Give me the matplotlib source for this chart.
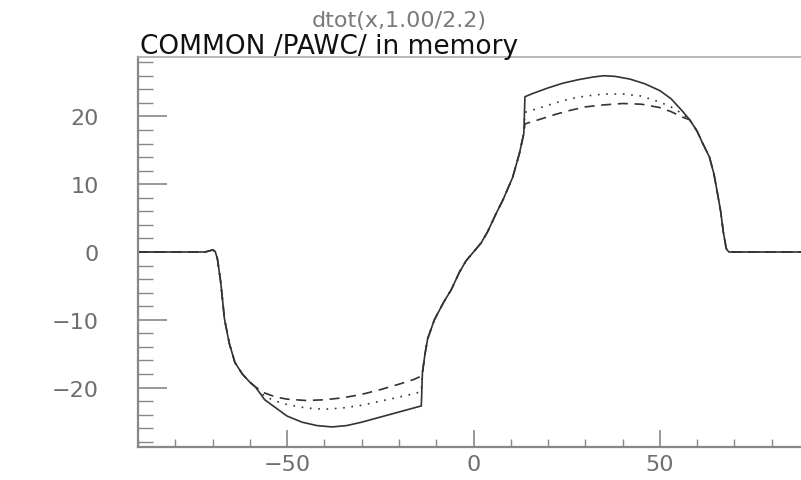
import numpy as np
import matplotlib
matplotlib.use("Agg")
import matplotlib.pyplot as plt
from matplotlib.ticker import MultipleLocator, FixedLocator

# shared parts of the three curves
left_x = [-90, -72, -71, -70, -69.3, -68.7, -67.8, -66.8, -65.5, -64, -62, -60, -58.5]
left_y = [0, 0, 0.15, 0.3, 0.1, -1.0, -4.5, -9.9, -13.5, -16.3, -18.0, -19.2, -19.9]
centre_x = [-13.7, -13, -12.3, -10.5, -8, -6, -3.8, -2, 0, 2, 3.8, 6, 8, 10.5, 12.3, 13.5]
centre_y = [-17.8, -15.0, -12.8, -10.0, -7.4, -5.6, -3.0, -1.3, 0, 1.3, 3.0, 5.6, 7.8, 11.0, 14.5, 17.5]
right_x = [58, 60, 61.5, 63.3, 64.5, 65.5, 66.3, 67, 67.8, 68.5, 90]
right_y = [19.5, 17.8, 16.0, 14.0, 11.5, 8.5, 6.0, 3.0, 0.5, 0, 0]

# trough (negative side) and crest (positive side) of each curve
solid_trough_x = [-56, -53, -50, -46, -42, -38, -34, -30, -26, -22, -18, -14]
solid_trough_y = [-21.8, -23.0, -24.2, -25.1, -25.6, -25.8, -25.6, -25.1, -24.5, -23.9, -23.3, -22.7]
solid_crest_x = [13.8, 16, 20, 24, 28, 32, 35, 38, 42, 46, 50, 53, 56]
solid_crest_y = [22.9, 23.4, 24.2, 24.9, 25.4, 25.8, 26.0, 25.9, 25.5, 24.8, 23.8, 22.6, 20.8]

dash_trough_x = [-56, -53, -50, -45, -40, -35, -30, -25, -20, -16, -14]
dash_trough_y = [-20.8, -21.4, -21.7, -21.9, -21.8, -21.5, -21.0, -20.3, -19.5, -18.8, -18.3]
dash_crest_x = [13.8, 18, 22, 26, 30, 35, 40, 45, 50, 53, 56]
dash_crest_y = [18.9, 19.6, 20.3, 20.9, 21.4, 21.7, 21.9, 21.8, 21.3, 20.7, 19.9]

dot_trough_x = [-56, -53, -50, -45, -40, -35, -30, -25, -20, -16, -14]
dot_trough_y = [-21.3, -22.0, -22.5, -23.0, -23.2, -23.0, -22.6, -22.0, -21.4, -20.9, -20.6]
dot_crest_x = [13.8, 18, 22, 26, 30, 35, 40, 45, 50, 53, 56]
dot_crest_y = [20.6, 21.3, 22.0, 22.6, 23.0, 23.3, 23.3, 23.0, 22.1, 21.4, 20.4]

x_ticks = [-50, 0, 50]
x_labels = ["\u221250", "0", "50"]
y_ticks = [-20, -10, 0, 10, 20]
y_labels = ["\u221220", "\u221210", "0", "10", "20"]


def build(tx, ty, cx, cy):
    xs = left_x + tx + centre_x + cx + right_x
    ys = left_y + ty + centre_y + cy + right_y
    return xs, ys


fig = plt.figure(figsize=(8.01, 4.81), dpi=100)
ax = fig.add_axes([138 / 801, 1 - 448 / 481, 671 / 801, 390 / 481])

col = "#333333"
sx, sy = build(solid_trough_x, solid_trough_y, solid_crest_x, solid_crest_y)
ax.plot(sx, sy, color=col, lw=1.2)
dx, dy = build(dash_trough_x, dash_trough_y, dash_crest_x, dash_crest_y)
ax.plot(dx, dy, color=col, lw=1.2, dashes=(6, 4))
ox, oy = build(dot_trough_x, dot_trough_y, dot_crest_x, dot_crest_y)
ax.plot(ox, oy, color=col, lw=1.2, dashes=(1, 4))

ax.set_xlim(-90, 90)
ax.set_ylim(-28.76, 28.76)

axcol = "#888888"
for s in ax.spines.values():
    s.set_color(axcol)
    s.set_linewidth(1.6)
ax.spines["top"].set_linewidth(1.2)
ax.spines["top"].set_color("#aaaaaa")

ax.xaxis.set_major_locator(FixedLocator(x_ticks))
ax.set_xticklabels(x_labels)
ax.xaxis.set_minor_locator(MultipleLocator(10))
ax.yaxis.set_major_locator(FixedLocator(y_ticks))
ax.set_yticklabels(y_labels)
ax.yaxis.set_minor_locator(MultipleLocator(2))

ax.tick_params(axis="x", which="major", direction="in", length=12, width=1.2,
               color=axcol, pad=5, labelsize=16, labelcolor="#6e6e6e")
ax.tick_params(axis="x", which="minor", direction="in", length=6, width=1.0, color=axcol)
ax.tick_params(axis="y", which="major", direction="in", length=21, width=1.2,
               color=axcol, pad=28, labelsize=16, labelcolor="#6e6e6e")
ax.tick_params(axis="y", which="minor", direction="in", length=10.5, width=1.0, color=axcol)
ax.tick_params(top=False, right=False, which="both")

fig.text(140 / 801, 1 - 54 / 481, "COMMON /PAWC/ in memory", fontsize=19,
         color="#111111", ha="left", va="baseline")
fig.text(312 / 801, 1 - 27 / 481, "dtot(x,1.00/2.2)", fontsize=16,
         color="#7a7a7a", ha="left", va="baseline")

fig.savefig("out.png", dpi=100)
